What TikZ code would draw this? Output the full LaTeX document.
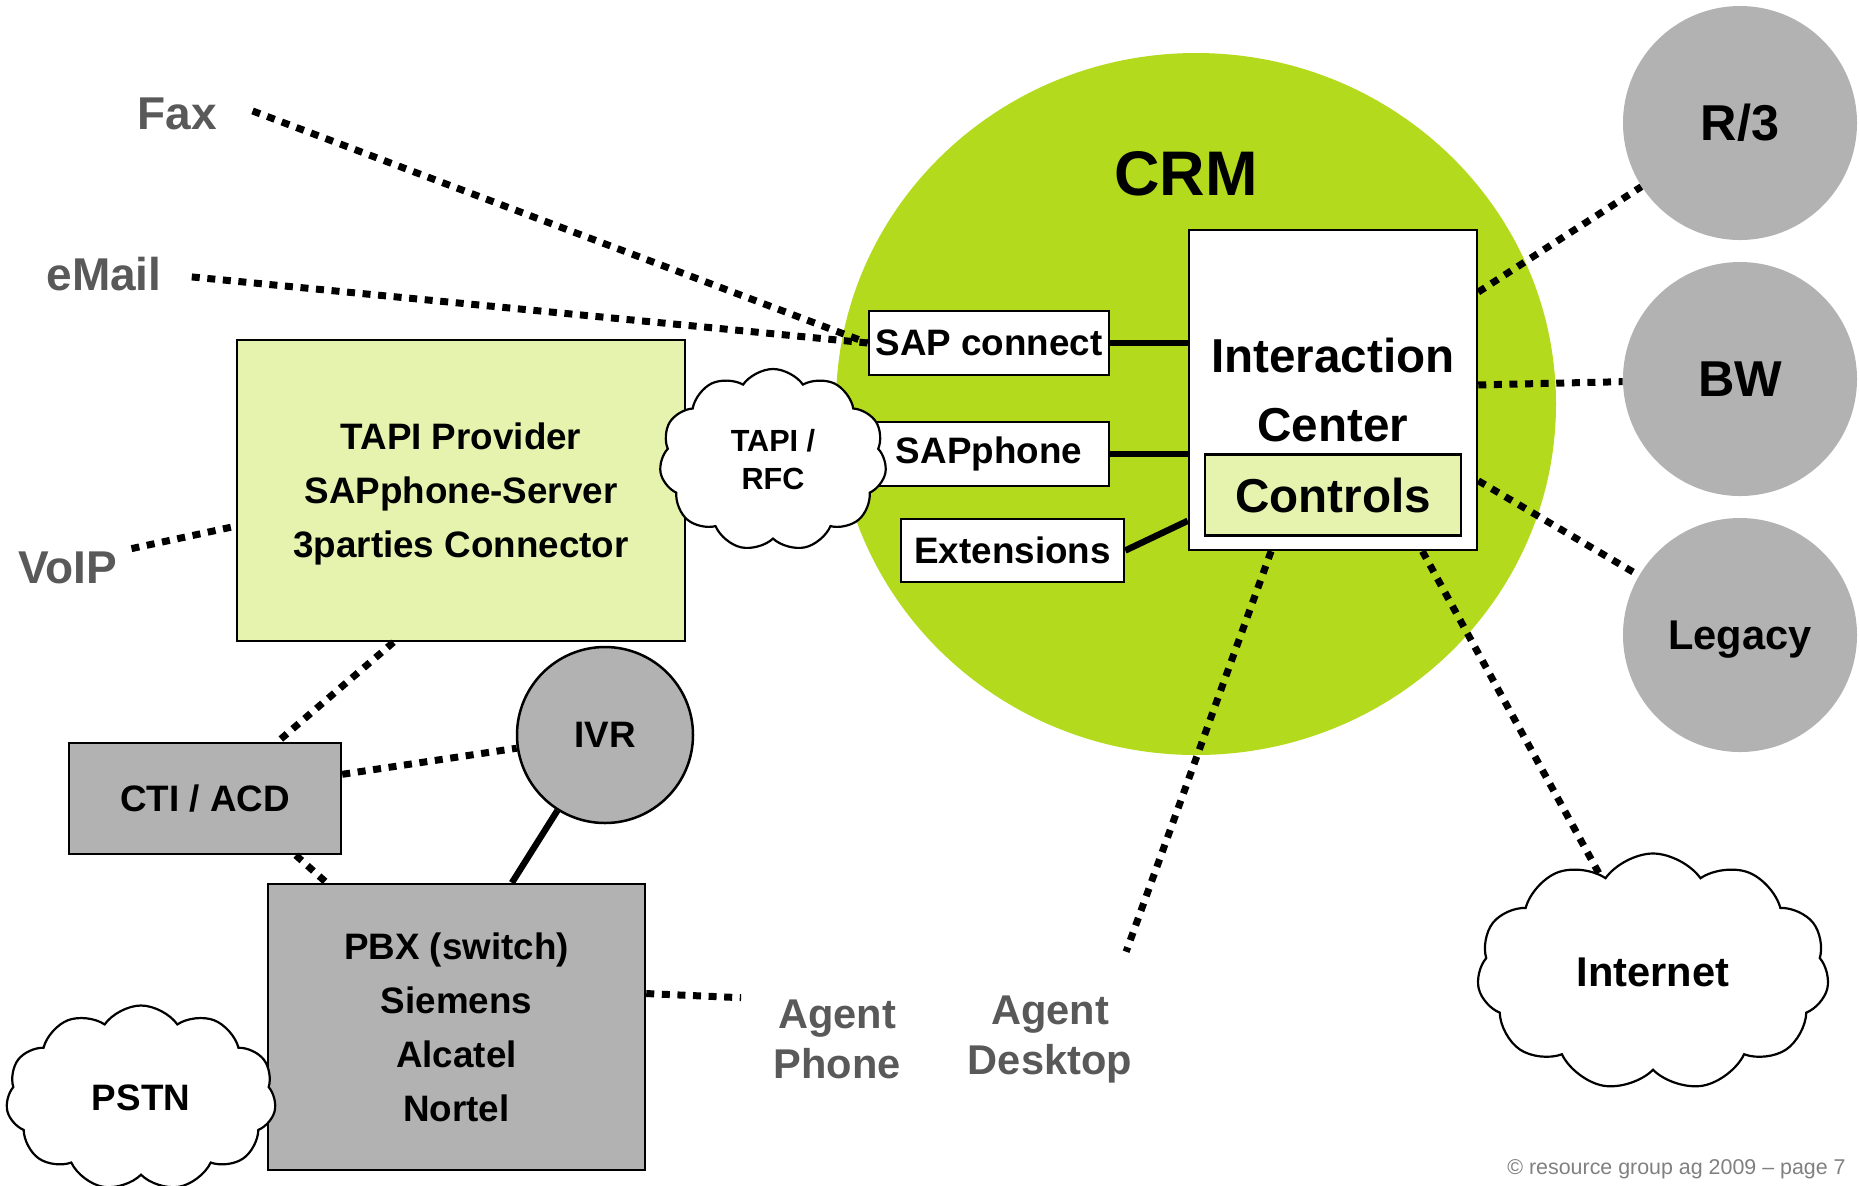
\documentclass[tikz,border=0pt]{standalone}
\usepackage{fontspec}
\setmainfont{Liberation Sans}
\usetikzlibrary{shapes.geometric,shapes.symbols,calc}

\definecolor{crmgreen}{RGB}{180,218,30}
\definecolor{lightgreen}{RGB}{230,243,175}
\definecolor{boxgrey}{RGB}{178,178,178}
\definecolor{labelgrey}{RGB}{89,89,89}
\definecolor{copygrey}{RGB}{128,128,128}

\newcommand{\fsize}[2]{\fontsize{#1}{#2}\selectfont}

\tikzset{
  box/.style={draw, line width=1.25pt, inner sep=0pt, align=center,
              font=\bfseries\fsize{18.4pt}{27pt}},
  greybox/.style={box, fill=boxgrey},
  greenbox/.style={box, fill=lightgreen},
  whitebox/.style={box, fill=white},
  sys/.style={circle, fill=boxgrey, inner sep=0pt, minimum size=117pt,
              font=\bfseries\fsize{25.2pt}{30pt}},
  wolke/.style={cloud, cloud puffs=11, cloud puff arc=110, cloud ignores aspect,
                draw, line width=1.1pt, fill=white, inner sep=0pt, align=center,
                font=\bfseries\fsize{18.4pt}{19pt}},
  channel/.style={text=labelgrey, inner sep=0pt, align=center,
                  font=\bfseries\fsize{23pt}{25pt}},
  dotline/.style={line width=3.5pt, dash pattern=on 4pt off 3.8pt},
  link/.style={line width=3.2pt},
}

\begin{document}
\begin{tikzpicture}[x=0.5pt,y=-0.5pt]

  \useasboundingbox (0,0) rectangle (1859,1185);

  \begin{scope}   % CRM a Interaction Center

    \def\Ex{1196};
    \def\Ey{404};
    \coordinate (E) at (\Ex,\Ey);
    \fill[crmgreen] (E) ellipse [x radius=360, y radius=351];

    \node[font=\bfseries\fsize{31.5pt}{34pt}] (crm) at (1186,174) {CRM};

    \node[whitebox, minimum width=144pt, minimum height=160pt,
          font=\bfseries\fsize{23.8pt}{34.5pt}] (ic) at (1333,390)
         {Interaction\\Center};
    \node[greenbox, minimum width=128pt, minimum height=40.5pt,
          font=\bfseries\fsize{23.8pt}{28pt}] (ctrl) at (1333,495) {Controls};

    \node[whitebox, minimum width=120pt, minimum height=32pt]
         (sapcon) at (989,343) {SAP connect};
    \node[whitebox, minimum width=120pt, minimum height=32pt]
         (sapph) at (989,454) {SAPphone};
    \node[whitebox, minimum width=111.5pt, minimum height=31.5pt]
         (ext) at (1012.5,550.5) {Extensions};

  \end{scope}

  \begin{scope}   % telefonie vlevo

    \node[greenbox, minimum width=224pt, minimum height=150.5pt, text depth=0pt]
         (tapi) at (461,490.5) {TAPI Provider\\SAPphone-Server\\3parties Connector};
    \node[wolke, minimum width=113.5pt, minimum height=91pt,
          font=\bfseries\fsize{15.3pt}{19pt}] (rfc) at (773,460) {TAPI /\\RFC};

    \node[greybox, minimum width=136pt, minimum height=55.5pt]
         (cti) at (205,798.5) {CTI / ACD};
    \node[circle, draw, line width=1.25pt, fill=boxgrey, inner sep=0pt,
          minimum size=88pt, font=\bfseries\fsize{18.4pt}{22pt}] (ivr) at (605,735) {IVR};
    \node[greybox, minimum width=188.5pt, minimum height=143pt]
         (pbx) at (456.5,1027) {PBX (switch)\\Siemens\\Alcatel\\Nortel};
    \node[wolke, minimum width=135pt, minimum height=92.5pt] (pstn) at (141,1098) {PSTN};

  \end{scope}

  \begin{scope}   % systemy vpravo

    \def\Sx{1740};
    \node[sys] (r3) at (\Sx,123) {R/3};
    \node[sys] (bw) at (\Sx,379) {BW};
    \node[sys, text depth=0pt, font=\bfseries\fsize{20.8pt}{24pt}] (legacy) at (\Sx,635) {Legacy};

    \node[wolke, minimum width=176pt, minimum height=118.5pt,
          font=\bfseries\fsize{20.8pt}{24pt}] (inet) at (1653,972) {Internet};

  \end{scope}

  % kanaly
  \node[channel] (fax) at (177,114) {Fax};
  \node[channel] (email) at (104,274) {eMail};
  \node[channel] (voip) at (68,568) {VoIP};
  \node[channel, font=\bfseries\fsize{20.8pt}{25pt}] (phone) at (837,1039) {Agent\\Phone};
  \node[channel, font=\bfseries\fsize{20.8pt}{25pt}] (desk) at (1050,1039) {Agent\\Desktop};

  \node[anchor=east, text=copygrey, inner sep=0pt, font=\fsize{10.7pt}{12pt}]
       (copy) at (1846,1169) {© resource group ag 2009 – page 7};

  % spoje
  \draw[dotline, shorten <=19pt] (fax.north east) -- (sapcon.west);
  \draw[dotline, shorten <=15pt] (email.east) -- (sapcon.west);
  \draw[dotline, shorten <=7pt] (voip.north east) -- (tapi.189);
  \draw[dotline] (tapi.246) -- (cti.38);
  \draw[dotline] (cti.10) -- (ivr);
  \draw[dotline] (cti.-32) -- (pbx.132);
  \draw[dotline, shorten >=16pt] (pbx.10) -- (phone.north west);
  \draw[dotline, shorten >=23pt] (ic.249) -- ([xshift=-11pt]desk.north east);
  \draw[dotline] (ic.-61) -- (inet);
  \draw[dotline] (ic.34) -- (r3);
  \draw[dotline] (ic.2) -- (bw);
  \draw[dotline] (ic.-32) -- (legacy);

  \draw[link] (sapcon.east) -- (sapcon.east -| ic.west);
  \draw[link] (sapph.east) -- (sapph.east -| ic.west);
  \draw[link] (ext.east) -- (ic.222);
  \draw[link] (ivr) -- (pbx.69);

\end{tikzpicture}
\end{document}
